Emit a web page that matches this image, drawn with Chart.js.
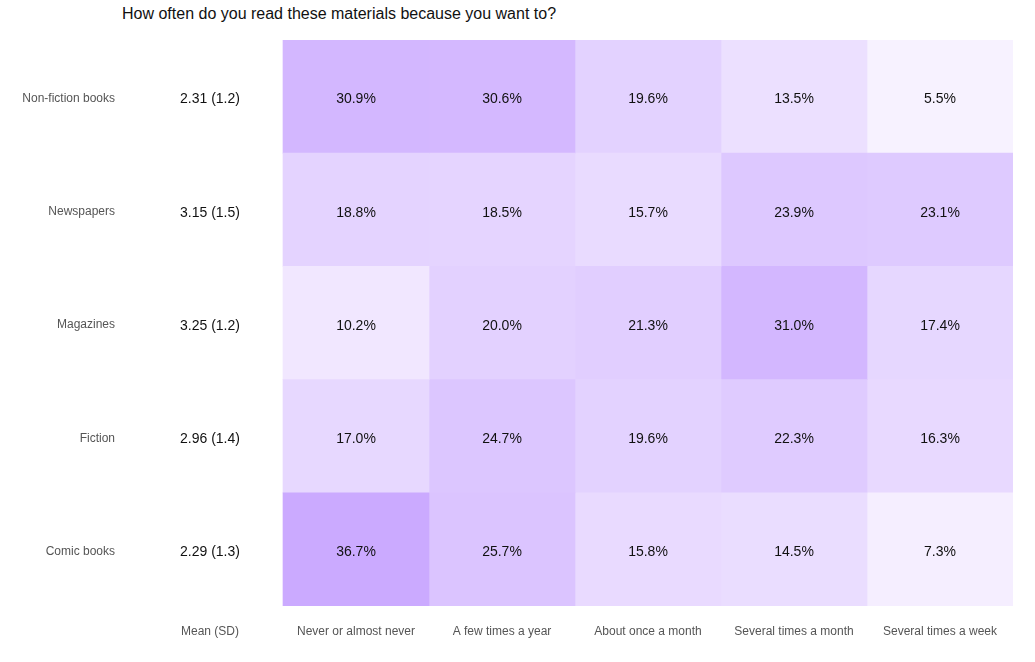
<!DOCTYPE html>
<html>
<head>
<meta charset="utf-8">
<script src="https://cdn.jsdelivr.net/npm/chart.js@4/dist/chart.umd.min.js"></script>
<style>
  html, body { margin: 0; padding: 0; background: #fff; }
  #wrap { position: relative; width: 1035px; height: 662px; }
  #title {
    position: absolute; left: 122px; top: 5px;
    font-family: "Liberation Sans", Arial, sans-serif; font-size: 16px; color: #111;
  }
  canvas { position: absolute; left: 0; top: 0; }
</style>
</head>
<body>
<div id="wrap">
  <div id="title">How often do you read these materials because you want to?</div>
  <canvas id="heat" width="1035" height="662"></canvas>
</div>
<script>
const rowLabels = ["Non-fiction books", "Newspapers", "Magazines", "Fiction", "Comic books"];
const meanSd = ["2.31 (1.2)", "3.15 (1.5)", "3.25 (1.2)", "2.96 (1.4)", "2.29 (1.3)"];
const colLabels = ["Never or almost never", "A few times a year", "About once a month", "Several times a month", "Several times a week"];

const never = [30.9, 18.8, 10.2, 17.0, 36.7];
const fewYear = [30.6, 18.5, 20.0, 24.7, 25.7];
const onceMonth = [19.6, 15.7, 21.3, 19.6, 15.8];
const severalMonth = [13.5, 23.9, 31.0, 22.3, 14.5];
const severalWeek = [5.5, 23.1, 17.4, 16.3, 7.3];

const columns = [never, fewYear, onceMonth, severalMonth, severalWeek];
const xLabels = ["Mean (SD)", ...colLabels];

// purple shade, lighter for small shares
function cellColor(v) {
  const a = Math.min(1, v * 0.0142);
  const r = Math.round(255 - a * 100);
  const g = Math.round(255 - a * 163);
  return `rgb(${r}, ${g}, 255)`;
}

const FONT = "'Liberation Sans', Arial, sans-serif";

const datasets = [
  {
    label: "Mean (SD)",
    data: rowLabels.map(() => [-1, 0]),
    backgroundColor: "rgba(0,0,0,0)",
    texts: meanSd,
  },
  ...columns.map((vals, c) => ({
    label: colLabels[c],
    data: vals.map(() => [c, c + 1]),
    backgroundColor: vals.map(cellColor),
    texts: vals.map((v) => v.toFixed(1) + "%"),
  })),
];

const cellText = {
  id: "cellText",
  afterDatasetsDraw(chart) {
    const ctx = chart.ctx;
    ctx.save();
    ctx.font = "14px " + FONT;
    ctx.fillStyle = "#111";
    ctx.textAlign = "center";
    ctx.textBaseline = "middle";
    chart.data.datasets.forEach((ds, i) => {
      chart.getDatasetMeta(i).data.forEach((el, j) => {
        const { x, y, base } = el.getProps(["x", "y", "base"], true);
        ctx.fillText(ds.texts[j], (x + base) / 2, y + 3);
      });
    });
    ctx.restore();
  },
};

new Chart(document.getElementById("heat"), {
  type: "bar",
  data: { labels: rowLabels, datasets },
  options: {
    indexAxis: "y",
    responsive: false,
    animation: false,
    layout: { padding: { top: 40, right: 22, left: 0, bottom: 0 } },
    datasets: {
      bar: { categoryPercentage: 1, barPercentage: 1, borderWidth: 0 },
    },
    plugins: {
      legend: { display: false },
      tooltip: { enabled: false },
      title: { display: false },
    },
    scales: {
      x: {
        type: "linear",
        min: -1,
        max: 5,
        stacked: false,
        grid: { display: false, drawTicks: false },
        border: { display: false },
        afterFit: (s) => { s.height = 56; },
        afterBuildTicks: (s) => {
          s.ticks = xLabels.map((_, i) => ({ value: i - 0.5 }));
        },
        ticks: {
          autoSkip: false,
          maxRotation: 0,
          padding: 18,
          color: "#555",
          font: { family: FONT, size: 12 },
          callback: (value) => xLabels[Math.floor(value) + 1],
        },
      },
      y: {
        stacked: true,
        grid: { display: false, drawTicks: false },
        border: { display: false },
        afterFit: (s) => { s.width = 137; },
        ticks: {
          padding: 22,
          labelOffset: 2,
          color: "#555",
          font: { family: FONT, size: 12 },
        },
      },
    },
  },
  plugins: [cellText],
});
</script>
</body>
</html>
